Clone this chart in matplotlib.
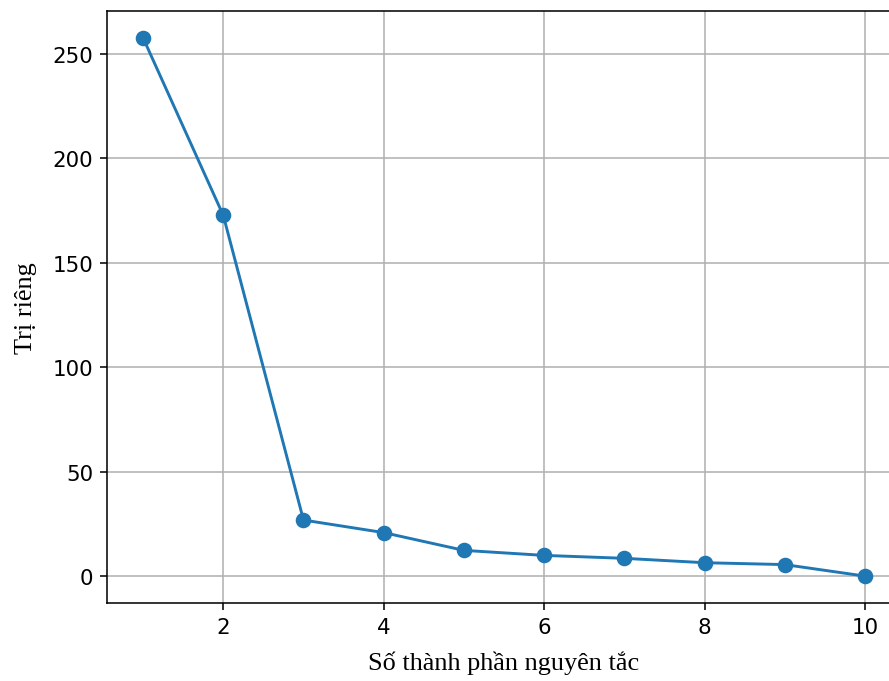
import matplotlib
matplotlib.use("Agg")
import matplotlib.pyplot as plt

components = [1, 2, 3, 4, 5, 6, 7, 8, 9, 10]
eigenvalues = [257.5, 172.6, 26.9, 20.9, 12.4, 10.0, 8.6, 6.5, 5.6, 0.1]
x_label = "Số thành phần nguyên tắc"
y_label = "Trị riêng"

dpi = 140
fig = plt.figure(figsize=(889 / dpi, 682 / dpi), dpi=dpi)
ax = fig.add_axes([107 / 889, 1 - 604 / 682, (901 - 107) / 889, (604 - 12) / 682])
ax.plot(components, eigenvalues, marker="o", markersize=7, color="#1f77b4")
ax.grid(True)
ax.tick_params(labelsize=11)
ax.set_xlabel(x_label, family="Liberation Serif", fontsize=13.5, labelpad=7)
ax.set_ylabel(y_label, family="Liberation Serif", fontsize=13.5, labelpad=8)
fig.savefig("out.png", dpi=dpi)
